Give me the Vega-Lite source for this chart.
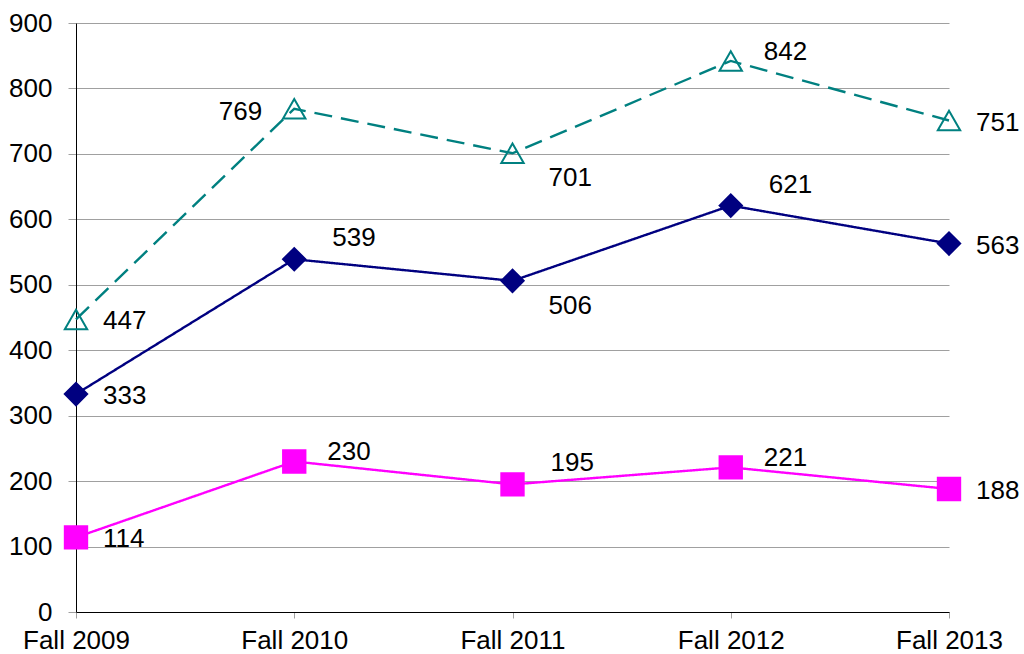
{
  "$schema": "https://vega.github.io/schema/vega-lite/v6.json",
  "width": 873,
  "height": 589,
  "autosize": {"type": "none"},
  "padding": {"left": 76, "top": 23, "right": 75, "bottom": 42},
  "background": "white",
  "config": {
    "view": {"stroke": null},
    "font": "Liberation Sans",
    "axis": {"labelFont": "Liberation Sans", "labelFontSize": 26, "labelColor": "black", "titleFontSize": 0}
  },
  "data": {
    "values": [
      {"year": "Fall 2009", "series": "Series 1", "value": 447},
      {"year": "Fall 2010", "series": "Series 1", "value": 769},
      {"year": "Fall 2011", "series": "Series 1", "value": 701},
      {"year": "Fall 2012", "series": "Series 1", "value": 842},
      {"year": "Fall 2013", "series": "Series 1", "value": 751},
      {"year": "Fall 2009", "series": "Series 2", "value": 333},
      {"year": "Fall 2010", "series": "Series 2", "value": 539},
      {"year": "Fall 2011", "series": "Series 2", "value": 506},
      {"year": "Fall 2012", "series": "Series 2", "value": 621},
      {"year": "Fall 2013", "series": "Series 2", "value": 563},
      {"year": "Fall 2009", "series": "Series 3", "value": 114},
      {"year": "Fall 2010", "series": "Series 3", "value": 230},
      {"year": "Fall 2011", "series": "Series 3", "value": 195},
      {"year": "Fall 2012", "series": "Series 3", "value": 221},
      {"year": "Fall 2013", "series": "Series 3", "value": 188}
    ]
  },
  "encoding": {
    "x": {
      "field": "year", "type": "ordinal", "title": null,
      "scale": {"type": "point", "padding": 0},
      "axis": {"labelAngle": 0, "domainColor": "black", "domainWidth": 1, "tickColor": "#a0a0a0", "tickSize": 6, "labelPadding": 9, "grid": false}
    },
    "y": {
      "field": "value", "type": "quantitative", "title": null,
      "scale": {"domain": [0, 900], "nice": false},
      "axis": {"values": [0, 100, 200, 300, 400, 500, 600, 700, 800, 900], "domainColor": "black", "domainWidth": 1, "tickColor": "#a0a0a0", "tickSize": 8, "labelPadding": 16, "gridColor": "#a0a0a0", "gridWidth": 1}
    }
  },
  "layer": [
    {
      "mark": {"type": "line", "strokeWidth": 2.4},
      "encoding": {
        "color": {"field": "series", "type": "nominal", "legend": null,
          "scale": {"domain": ["Series 1", "Series 2", "Series 3"], "range": ["#008080", "#000080", "#ff00ff"]}},
        "strokeDash": {"field": "series", "type": "nominal", "legend": null,
          "scale": {"domain": ["Series 1", "Series 2", "Series 3"], "range": [[18, 9], [1, 0], [1, 0]]}}
      }
    },
    {
      "mark": {"type": "point", "filled": true, "strokeWidth": 2, "opacity": 1},
      "encoding": {
        "shape": {"field": "series", "type": "nominal", "legend": null,
          "scale": {"domain": ["Series 1", "Series 2", "Series 3"], "range": ["triangle-up", "diamond", "square"]}},
        "fill": {"field": "series", "type": "nominal", "legend": null,
          "scale": {"domain": ["Series 1", "Series 2", "Series 3"], "range": ["transparent", "#000080", "#ff00ff"]}},
        "stroke": {"field": "series", "type": "nominal", "legend": null,
          "scale": {"domain": ["Series 1", "Series 2", "Series 3"], "range": ["#008080", "#000080", "#ff00ff"]}},
        "size": {"value": 500}
      }
    },
    {
      "transform": [{"filter": "datum.year == 'Fall 2009' || datum.year == 'Fall 2013'"}],
      "mark": {"type": "text", "align": "left", "baseline": "middle", "dx": 27, "dy": 2, "fontSize": 26, "color": "black"},
      "encoding": {"text": {"field": "value", "type": "quantitative"}}
    },
    {
      "transform": [{"filter": "datum.series == 'Series 1' && datum.year == 'Fall 2010'"}],
      "mark": {"type": "text", "align": "right", "baseline": "middle", "dx": -32, "dy": 3, "fontSize": 26, "color": "black"},
      "encoding": {"text": {"field": "value", "type": "quantitative"}}
    },
    {
      "transform": [{"filter": "datum.year == 'Fall 2011' && datum.series != 'Series 3'"}],
      "mark": {"type": "text", "align": "left", "baseline": "middle", "dx": 36, "dy": 25, "fontSize": 26, "color": "black"},
      "encoding": {"text": {"field": "value", "type": "quantitative"}}
    },
    {
      "transform": [{"filter": "(datum.series == 'Series 2' && (datum.year == 'Fall 2010' || datum.year == 'Fall 2012')) || (datum.series == 'Series 3' && datum.year == 'Fall 2011')"}],
      "mark": {"type": "text", "align": "left", "baseline": "middle", "dx": 38, "dy": -21, "fontSize": 26, "color": "black"},
      "encoding": {"text": {"field": "value", "type": "quantitative"}}
    },
    {
      "transform": [{"filter": "(datum.series == 'Series 1' && datum.year == 'Fall 2012') || (datum.series == 'Series 3' && (datum.year == 'Fall 2010' || datum.year == 'Fall 2012'))"}],
      "mark": {"type": "text", "align": "left", "baseline": "middle", "dx": 33, "dy": -9, "fontSize": 26, "color": "black"},
      "encoding": {"text": {"field": "value", "type": "quantitative"}}
    }
  ]
}
